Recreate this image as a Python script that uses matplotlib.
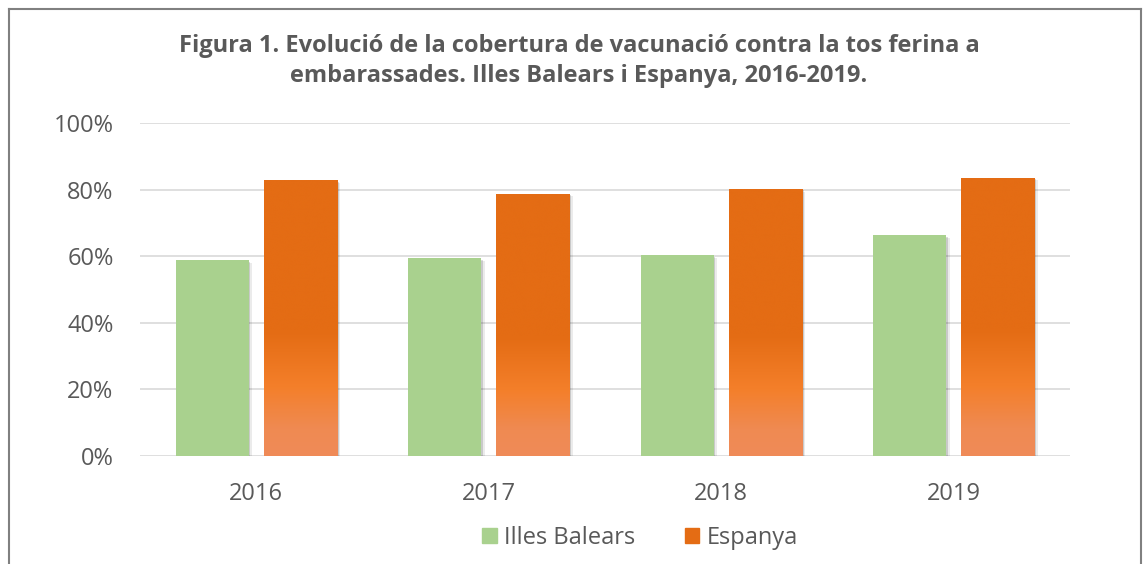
import numpy as np
import matplotlib

matplotlib.use("Agg")
import matplotlib.pyplot as plt
import matplotlib.patheffects as pe
from matplotlib.colors import LinearSegmentedColormap
from matplotlib.ticker import PercentFormatter
from matplotlib.patches import Patch

plt.rcParams["font.family"] = ["Open Sans", "DejaVu Sans"]

YEARS = ["2016", "2017", "2018", "2019"]
BALEARS = [0.588, 0.594, 0.603, 0.663]
ESPANYA = [0.828, 0.788, 0.802, 0.836]
SERIES = ("Illes Balears", "Espanya")
TITLE = ("Figura 1. Evolució de la cobertura de vacunació contra la tos ferina a\n"
         "embarassades. Illes Balears i Espanya, 2016-2019.")

GREEN = "#A9D18E"
ORANGE = "#E46C14"
GREY = "#595959"

# vertical gradient for the orange bars (bottom -> top)
orange_grad = LinearSegmentedColormap.from_list(
    "og", [(0.0, "#F08B58"), (0.1, "#EF8A52"), (0.25, "#F47F2A"),
           (0.45, "#E46C14"), (1.0, "#E46C14")])

W, H = 1143, 564
fig = plt.figure(figsize=(W / 100, H / 100), dpi=100)
ax = fig.add_axes([140 / W, 1 - 456 / H, (1070 - 140) / W, (456 - 123) / H])

x = np.arange(len(YEARS))
bw = 0.314
shadow = [pe.SimplePatchShadow(offset=(2.5, -2), shadow_rgbFace="#000000", alpha=0.08),
          pe.SimplePatchShadow(offset=(1.2, -1), shadow_rgbFace="#000000", alpha=0.14),
          pe.Normal()]
ax.bar(x - 0.19, BALEARS, bw, color=GREEN, zorder=3, path_effects=shadow)
obars = ax.bar(x + 0.19, ESPANYA, bw, color=ORANGE, zorder=3, path_effects=shadow)
grad = np.linspace(0, 1, 256).reshape(-1, 1)
for b in obars:
    x0, y0 = b.get_x(), b.get_y()
    im = ax.imshow(grad, cmap=orange_grad, origin="lower", aspect="auto",
                   extent=(x0, x0 + b.get_width(), y0, y0 + b.get_height()),
                   zorder=4, interpolation="bicubic")
    im.set_clip_path(b)

ax.set_xlim(-0.5, len(YEARS) - 0.5)
ax.set_ylim(0, 1)
ax.set_yticks(np.arange(0, 1.01, 0.2))
ax.yaxis.set_major_formatter(PercentFormatter(1.0, decimals=0))
ax.set_xticks(x)
ax.set_xticklabels(YEARS)
ax.tick_params(axis="both", length=0, labelsize=17, labelcolor=GREY)
ax.tick_params(axis="x", pad=19)
ax.tick_params(axis="y", pad=19)
ax.grid(axis="y", color="#D9D9D9", lw=1.2, zorder=0)
for s in ax.spines.values():
    s.set_visible(False)

fig.text(579 / W, 1 - 61 / H, TITLE, ha="center", va="center", fontsize=17,
         fontweight="bold", color=GREY, linespacing=1.3)

handles = [Patch(color=GREEN), Patch(color=ORANGE)]
fig.legend(handles, SERIES, loc="center", bbox_to_anchor=(640 / W, 1 - 538 / H),
           ncol=2, frameon=False, fontsize=17, labelcolor=GREY,
           handlelength=0.62, handleheight=0.62, handletextpad=0.3, columnspacing=2.1)

# outer frame (open at the bottom)
fc = "#808080"
fig.add_artist(plt.Line2D([8.5 / W, 8.5 / W], [0, 1 - 8.5 / H], color=fc, lw=1.5,
                          transform=fig.transFigure))
fig.add_artist(plt.Line2D([8.5 / W, 1141 / W], [1 - 8.5 / H, 1 - 8.5 / H], color=fc,
                          lw=1.5, transform=fig.transFigure))
fig.add_artist(plt.Line2D([1141 / W, 1141 / W], [0, 1 - 8.5 / H], color=fc, lw=1.5,
                          transform=fig.transFigure))

fig.savefig("out.png", dpi=100)
